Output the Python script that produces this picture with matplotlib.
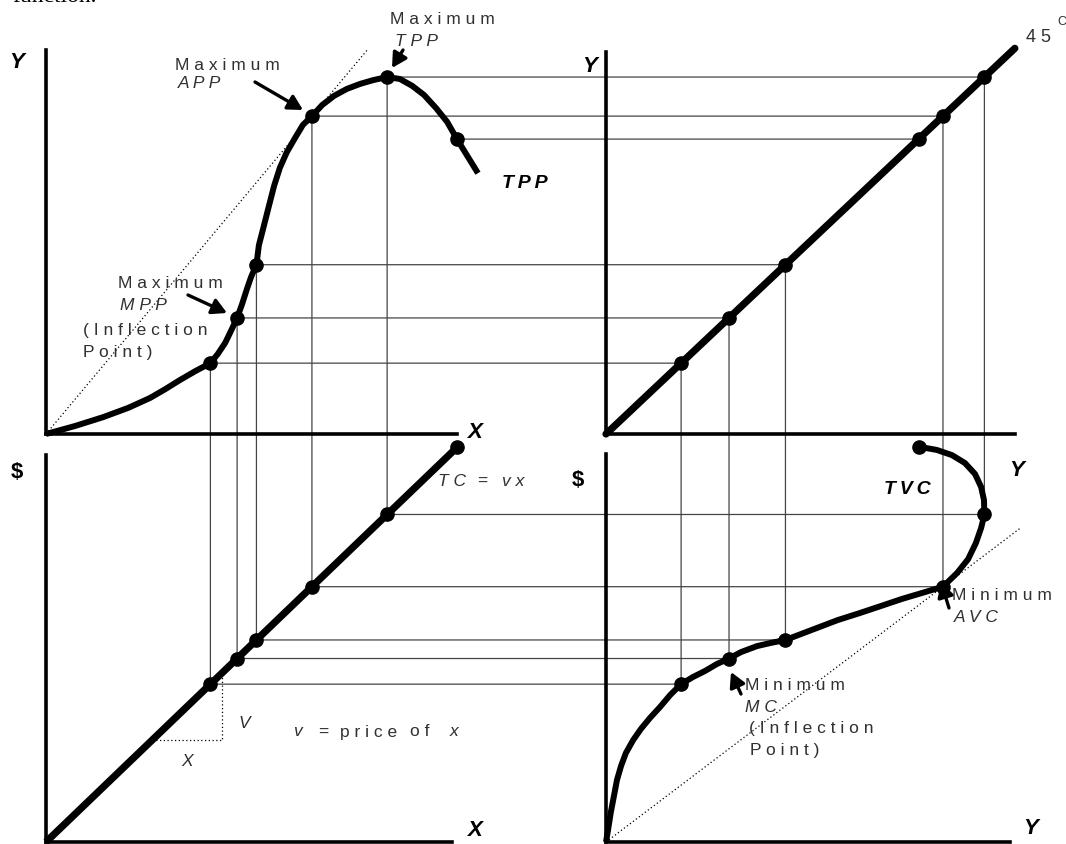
import matplotlib
matplotlib.use("Agg")
import matplotlib.pyplot as plt
from matplotlib.patches import ConnectionPatch

# ---------------- data ----------------
# the six marked input levels X and the matching output Y = TPP(X)
x_levels = [4.0, 4.65, 5.12, 6.47, 8.3, 10.0]
y_levels = [1.85, 3.03, 4.42, 8.3, 9.32, 7.7]
price_v = 2.0                      # v = price of x  ->  TC = v * x

# total physical product curve (X, Y)
tpp_x = [0, 0.71, 1.39, 1.995, 2.53, 2.90, 3.26, 3.63, 4.0, 4.18, 4.36, 4.50,
         4.65, 4.77, 4.89, 4.99, 5.12, 5.18, 5.30, 5.43, 5.55, 5.69, 5.86,
         6.06, 6.25, 6.47, 6.72, 7.01, 7.32, 7.64, 7.96, 8.3, 8.61, 8.91,
         9.20, 9.49, 9.76, 10.0, 10.24, 10.51]
tpp_y = [0, 0.21, 0.44, 0.68, 0.94, 1.17, 1.41, 1.64, 1.85, 2.09, 2.38, 2.69,
         3.03, 3.39, 3.79, 4.10, 4.42, 4.93, 5.43, 5.98, 6.48, 6.95, 7.36,
         7.73, 8.07, 8.3, 8.59, 8.83, 9.01, 9.14, 9.24, 9.32, 9.27, 9.09,
         8.85, 8.51, 8.15, 7.7, 7.28, 6.81]

# total variable cost curve (Y, $)
tvc_y = [0, 0.05, 0.12, 0.20, 0.27, 0.37, 0.49, 0.67, 0.86, 1.08, 1.33, 1.58,
         1.85, 2.14, 2.44, 2.73, 3.03, 3.33, 3.72, 4.06, 4.42, 5.07, 5.71,
         6.26, 6.77, 7.29, 7.78, 8.3, 8.65, 8.92, 9.11, 9.24, 9.32, 9.31,
         9.24, 9.09, 8.84, 8.52, 8.15, 7.88, 7.7]
tvc_c = [0, 0.61, 1.52, 2.38, 3.14, 3.85, 4.51, 5.17, 5.73, 6.28, 6.84, 7.45,
         8.0, 8.36, 8.67, 9.02, 9.3, 9.63, 9.93, 10.09, 10.24, 10.75, 11.25,
         11.61, 11.96, 12.32, 12.62, 12.94, 13.64, 14.34, 15.15, 15.92, 16.6,
         17.33, 17.99, 18.65, 19.21, 19.61, 19.87, 19.97, 20.0]

line45_end = 10.07       # extent of the 45 degree line (Y units)
tc_end = 10.0            # extent of TC = vx (X units)
app_ray_end = 10.05      # ray through max APP ends at this Y
avc_ray_end = 10.2       # ray through min AVC ends at this Y
slope_tri_x = [2.58, 4.28]   # little X / V triangle on TC line

# ---------------- layout ----------------
W, H = 1066, 844
SX = 41.1      # px per X unit
SYV = 38.3     # px per Y unit (vertical)
SYH = 40.6     # px per Y unit (horizontal)
SC = 19.73     # px per $

fig = plt.figure(figsize=(W / 100, H / 100), dpi=100)
fig.patch.set_facecolor("white")


def panel(x0, y0, x1, y1, sx, sy):
    ax = fig.add_axes([x0 / W, 1 - y1 / H, (x1 - x0) / W, (y1 - y0) / H])
    ax.set_xlim(0, (x1 - x0) / sx)
    ax.set_ylim(0, (y1 - y0) / sy)
    ax.patch.set_visible(False)
    for s in ("top", "right"):
        ax.spines[s].set_visible(False)
    for s in ("left", "bottom"):
        ax.spines[s].set_linewidth(2.6)
        ax.spines[s].set_capstyle("projecting")
    ax.set_xticks([])
    ax.set_yticks([])
    return ax


ax_tl = panel(46, 50, 457, 434, SX, SYV)
ax_tr = panel(606, 52, 1015, 434, SYH, SYV)
ax_bl = panel(46, 455, 452, 842, SX, SC)
ax_br = panel(606, 454, 1010, 842, SYH, SC)

c_levels = [price_v * x for x in x_levels]
thick = dict(color="black", clip_on=False, zorder=3, solid_joinstyle="round")
dot = dict(ls="none", marker="o", ms=9.5, color="black", clip_on=False, zorder=4)
dotted = dict(color="black", lw=0.9, ls=(0, (1, 2)), clip_on=False, zorder=2)

# top-left: TPP
ax_tl.plot(tpp_x, tpp_y, lw=4.3, solid_capstyle="butt", **thick)
ax_tl.plot(x_levels, y_levels, **dot)
ax_tl.plot([0, app_ray_end * x_levels[3] / y_levels[3]], [0, app_ray_end], **dotted)

# top-right: 45 degree line
ax_tr.plot([0, line45_end], [0, line45_end], lw=5.2, solid_capstyle="round", **thick)
ax_tr.plot(y_levels, y_levels, **dot)

# bottom-left: TC = v x
ax_bl.plot([0, tc_end], [0, price_v * tc_end], lw=5.2, solid_capstyle="butt", **thick)
ax_bl.plot(x_levels, c_levels, **dot)
ax_bl.plot([slope_tri_x[0], slope_tri_x[1], slope_tri_x[1]],
           [price_v * slope_tri_x[0], price_v * slope_tri_x[0], price_v * slope_tri_x[1]],
           **dotted)

# bottom-right: TVC
ax_br.plot(tvc_y, tvc_c, lw=4.3, solid_capstyle="butt", **thick)
ax_br.plot(y_levels, c_levels, **dot)
ax_br.plot([0, avc_ray_end], [0, avc_ray_end * c_levels[3] / y_levels[3]], **dotted)

# guide lines linking the four panels
guide = dict(color="#454545", lw=0.9, zorder=-1)
for xv, yv, cv in zip(x_levels, y_levels, c_levels):
    for a, pa, b, pb in ((ax_tl, (xv, yv), ax_bl, (xv, cv)),
                         (ax_tl, (xv, yv), ax_tr, (yv, yv)),
                         (ax_tr, (yv, yv), ax_br, (yv, cv)),
                         (ax_bl, (xv, cv), ax_br, (yv, cv))):
        fig.add_artist(ConnectionPatch(xyA=pa, coordsA="data", axesA=a,
                                       xyB=pb, coordsB="data", axesB=b, **guide))

# ---------------- texts & arrows (pixel overlay) ----------------
ov = fig.add_axes([0, 0, 1, 1])
ov.set_xlim(0, W)
ov.set_ylim(H, 0)
ov.axis("off")

light = dict(family=["Liberation Sans", "DejaVu Sans"], fontsize=12.5, color="#303030",
             ha="left", va="center")
lit = dict(light, style="italic")
bold = dict(family=["Liberation Sans", "DejaVu Sans"], fontsize=16, color="black",
            weight="bold", style="italic", ha="center", va="center")


def arrow(x0, y0, x1, y1):
    ov.annotate("", xy=(x1, y1), xytext=(x0, y0),
                arrowprops=dict(arrowstyle="-|>,head_length=0.55,head_width=0.3",
                                lw=2.4, color="black", shrinkA=0, shrinkB=0,
                                mutation_scale=16))


# clipped page text at the very top
ov.text(12, 2, "function.", family="Liberation Serif", fontsize=17, color="black",
        ha="left", va="baseline")

# Maximum TPP
ov.text(390, 19, "M a x i m u m", **light)
ov.text(395, 42, "T P P", **lit)
arrow(403, 50, 392, 68)
# Maximum APP
ov.text(175, 65, "M a x i m u m", **light)
ov.text(178, 84, "A P P", **lit)
arrow(255, 82, 303, 110)
# Maximum MPP
ov.text(118, 283, "M a x i m u m", **light)
ov.text(120, 305, "M P P", **lit)
ov.text(83, 330, "( I n f l e c t i o n", **light)
ov.text(83, 353, "P o i n t )", **light)
arrow(188, 295, 227, 313)

# TPP / TVC labels
ov.text(502, 184, "T\u2009P\u2009P", **dict(bold, fontsize=14, ha="left"))
ov.text(884, 490, "T\u2009V\u2009C", **dict(bold, fontsize=14, ha="left"))

# axis letters
ov.text(17, 62, "Y", **bold)
ov.text(474, 432, "X", **bold)
ov.text(590, 67, "Y", **bold)
ov.text(17, 473, "$", **dict(bold, style="normal"))
ov.text(474, 830, "X", **bold)
ov.text(578, 480, "$", **dict(bold, style="normal"))
ov.text(1017, 470, "Y", **bold)
ov.text(1031, 828, "Y", **bold)

# 45 degree label
ov.text(1026, 37, "4 5", **dict(light, fontsize=13))
ov.text(1057, 22, "C", **dict(light, fontsize=9))

# TC = vx
ov.text(438, 481, "T C", **lit)
ov.text(477, 481, "=", **light)
ov.text(502, 481, "v x", **lit)

# slope triangle letters and price note
ov.text(238, 723, "V", **lit)
ov.text(181, 762, "X", **lit)
ov.text(293, 732, "v", **lit)
ov.text(318, 732, "=", **light)
ov.text(340, 732, "p r i c e", **light)
ov.text(410, 732, "o f", **light)
ov.text(450, 732, "x", **lit)

# Minimum AVC
ov.text(952, 595, "M i n i m u m", **light)
ov.text(954, 617, "A V C", **lit)
arrow(949, 608, 941, 582)
# Minimum MC
ov.text(745, 686, "M i n i m u m", **light)
ov.text(745, 708, "M C", **lit)
ov.text(749, 729, "( I n f l e c t i o n", **light)
ov.text(750, 751, "P o i n t )", **light)
arrow(741, 694, 731, 672)

fig.savefig("out.png", dpi=100, facecolor="white")
